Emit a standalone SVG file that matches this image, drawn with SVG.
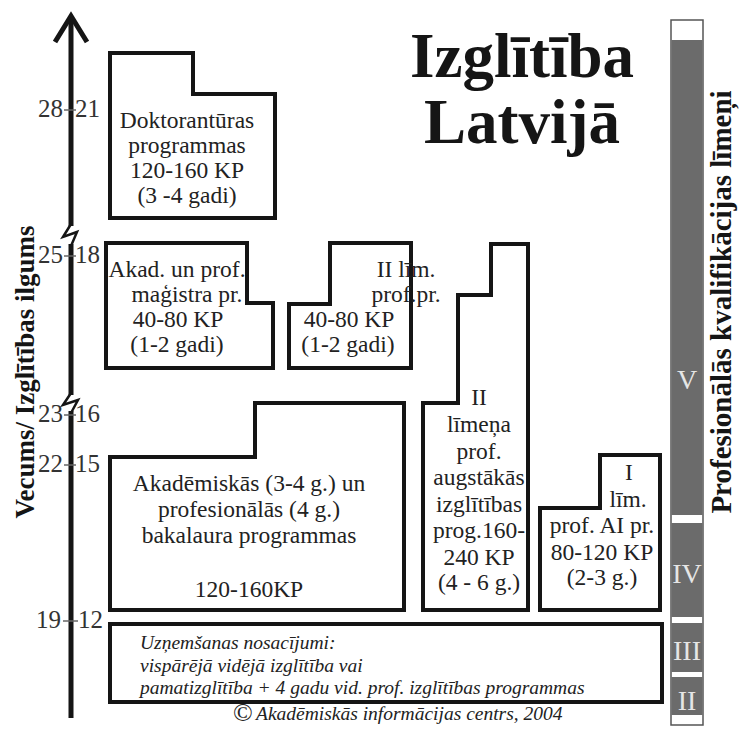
<svg xmlns="http://www.w3.org/2000/svg" width="739" height="735" viewBox="0 0 739 735">
<style>
.box{fill:#fff;stroke:#151515;stroke-width:4;stroke-linejoin:miter}
.t{font-family:"Liberation Serif","Times New Roman",serif;font-size:23.5px;fill:#222;text-anchor:middle}
.ax{font-family:"Liberation Serif","Times New Roman",serif;font-size:25px;fill:#333}
.it{font-family:"Liberation Serif","Times New Roman",serif;font-style:italic;font-size:19.5px;fill:#222}
.rn{font-family:"Liberation Serif","Times New Roman",serif;font-size:28px;fill:#e6e6e6;text-anchor:middle}
.vt{font-family:"Liberation Serif","Times New Roman",serif;font-weight:bold;fill:#151515;text-anchor:middle}
.axis{fill:none;stroke:#151515;stroke-width:5}
.zig{fill:none;stroke:#151515;stroke-width:2.5;stroke-linejoin:miter}
.tick{stroke:#666;stroke-width:1.5}
.lvl{fill:#6b6b6b}
</style>

<g id="title">
<text class="vt" x="522" y="77" font-size="63">Izglītība</text>
<text class="vt" x="522" y="143" font-size="63">Latvijā</text>
</g>

<g id="connectors">
<path class="axis" d="M71,17 V226 M71,244 V395 M71,411 V718"/>
<path class="axis" d="M55,42 L71,16 L87,42" stroke-width="6.5"/>
<path class="zig" d="M71,224 L63,237 L77,232 L71,246"/>
<path class="zig" d="M71,393 L63,405 L78,400 L71,413"/>
</g>

<g id="axis-labels">
<text class="ax" x="63" y="117" text-anchor="end">28</text><text class="ax" x="75" y="117">21</text>
<line class="tick" x1="64" y1="110" x2="76" y2="110"/>
<text class="ax" x="63" y="263" text-anchor="end">25</text><text class="ax" x="75" y="263">18</text>
<line class="tick" x1="64" y1="256" x2="76" y2="256"/>
<text class="ax" x="63" y="422" text-anchor="end">23</text><text class="ax" x="75" y="422">16</text>
<line class="tick" x1="64" y1="415" x2="76" y2="415"/>
<text class="ax" x="63" y="472" text-anchor="end">22</text><text class="ax" x="75" y="472">15</text>
<line class="tick" x1="64" y1="465" x2="76" y2="465"/>
<text class="ax" x="61" y="628" text-anchor="end">19</text><text class="ax" x="78" y="628">12</text>
<line class="tick" x1="63" y1="621" x2="78" y2="621"/>
</g>

<g id="axis-title">
<text class="vt" font-size="27" transform="translate(34,372) rotate(-90)">Vecums/ Izglītības ilgums</text>
</g>

<g id="doktorantura">
<path class="box" d="M110,53 H193 V94 H275 V218 H110 Z"/>
<text class="t" x="187" y="128">Doktorantūras</text>
<text class="t" x="187" y="153">programmas</text>
<text class="t" x="187" y="178">120-160 KP</text>
<text class="t" x="187" y="203">(3 -4 gadi)</text>
</g>

<g id="magistra">
<path class="box" d="M106,243 H247 V303 H273 V368 H106 Z"/>
<text class="t" x="177" y="277">Akad. un prof.</text>
<text class="t" x="187" y="302">maģistra pr.</text>
<text class="t" x="178" y="327">40-80 KP</text>
<text class="t" x="177" y="352">(1-2 gadi)</text>
</g>

<g id="prof-2">
<path class="box" d="M289,304 H330 V243 H411 V368 H289 Z"/>
<text class="t" x="406" y="277" text-anchor="end">II līm.</text>
<text class="t" x="406" y="302" text-anchor="end">prof.pr.</text>
<text class="t" x="349" y="327">40-80 KP</text>
<text class="t" x="348" y="352">(1-2 gadi)</text>
</g>

<g id="bakalaura">
<path class="box" d="M110,457 H255 V403 H404 V610 H110 Z"/>
<text class="t" x="249" y="491">Akadēmiskās (3-4 g.) un</text>
<text class="t" x="249" y="517">profesionālās (4 g.)</text>
<text class="t" x="249" y="543">bakalaura programmas</text>
<text class="t" x="249" y="597">120-160KP</text>
</g>

<g id="prof-2-augstaka">
<path class="box" d="M423,403 H458 V295 H491 V244 H528 V610 H423 Z"/>
<text class="t" x="479" y="405">II</text>
<text class="t" x="479" y="432">līmeņa</text>
<text class="t" x="479" y="459">prof.</text>
<text class="t" x="479" y="485">augstākās</text>
<text class="t" x="479" y="512">izglītības</text>
<text class="t" x="479" y="538">prog.160-</text>
<text class="t" x="479" y="565">240 KP</text>
<text class="t" x="479" y="590">(4 - 6 g.)</text>
</g>

<g id="prof-1">
<path class="box" d="M540,508 H600 V455 H660 V610 H540 Z"/>
<text class="t" x="629" y="480">I</text>
<text class="t" x="628" y="507">līm.</text>
<text class="t" x="602" y="533">prof. AI pr.</text>
<text class="t" x="602" y="560">80-120 KP</text>
<text class="t" x="602" y="585">(2-3 g.)</text>
</g>

<g id="uznemsana">
<rect class="box" x="110" y="624" width="552" height="78"/>
<text class="it" x="140" y="649">Uzņemšanas nosacījumi:</text>
<text class="it" x="140" y="672">vispārējā vidējā izglītība vai</text>
<text class="it" x="140" y="694">pamatizglītība + 4 gadu vid. prof. izglītības programmas</text>
</g>

<g id="copyright">
<text x="233" y="721" font-family="'Liberation Serif','Times New Roman',serif" font-size="26" fill="#222">©</text>
<text class="it" x="256" y="720" font-size="20.5">Akadēmiskās informācijas centrs, 2004</text>
</g>

<g id="levels">
<rect x="671" y="20" width="32" height="705" fill="#fff" stroke="#555" stroke-width="1.5"/>
<rect class="lvl" x="671.5" y="40" width="31" height="475"/>
<rect class="lvl" x="671.5" y="523" width="31" height="94"/>
<rect class="lvl" x="671.5" y="623" width="31" height="49"/>
<rect class="lvl" x="671.5" y="677" width="31" height="38"/>
<text class="rn" x="687" y="389">V</text>
<text class="rn" x="687" y="583">IV</text>
<text class="rn" x="687" y="660">III</text>
<text class="rn" x="687" y="710">II</text>
<text class="vt" font-size="29" transform="translate(731,302) rotate(-90)">Profesionālās kvalifikācijas līmeņi</text>
</g>
</svg>
